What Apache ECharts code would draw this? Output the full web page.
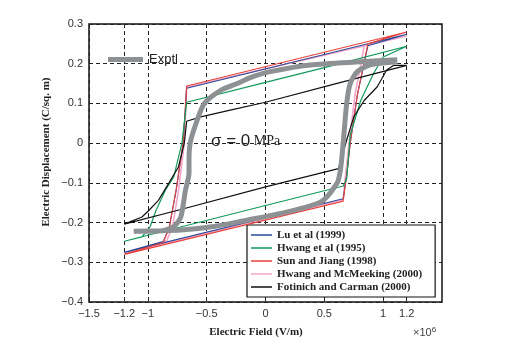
<!DOCTYPE html>
<html>
<head>
<meta charset="utf-8">
<script src="https://cdn.jsdelivr.net/npm/echarts@6/dist/echarts.min.js"></script>
<style>
  html, body { margin: 0; padding: 0; background: #fff; }
  #chart { width: 505px; height: 351px; }
</style>
</head>
<body>
<div id="chart"></div>
<script>
// tick positions (x in units of 1e6 V/m)
const xTicks = [-1.5, -1.2, -1, -0.5, 0, 0.5, 1, 1.2];

// hysteresis loops, [E, D] pairs
const luLoop = [
  [1.2, 0.274], [-0.67, 0.138], [-0.70, 0.0], [-0.76, -0.12], [-0.82, -0.215], [-0.87, -0.248], [-1.2, -0.275],
  [0.66, -0.14], [0.69, -0.08], [0.72, 0.0], [0.78, 0.12], [0.87, 0.245], [1.2, 0.274]
];
const hwangLoop = [
  [1.2, 0.244], [0.5, 0.19], [0, 0.153], [-0.67, 0.103], [-0.71, 0.0], [-0.78, -0.085], [-0.85, -0.118],
  [-0.93, -0.169], [-0.98, -0.21], [-1.05, -0.236], [-1.2, -0.247],
  [0, -0.157], [0.66, -0.108], [0.69, -0.09], [0.72, 0.02], [0.81, 0.108], [0.92, 0.176], [1.0, 0.217], [1.2, 0.244]
];
const sunLoop = [
  [1.2, 0.28], [-0.67, 0.144], [-0.70, 0.0], [-0.76, -0.118], [-0.82, -0.215], [-0.87, -0.25], [-1.2, -0.28],
  [0.66, -0.146], [0.69, -0.08], [0.72, 0.0], [0.78, 0.12], [0.87, 0.25], [1.2, 0.28]
];
const mcmeekingLoop = [
  [1.2, 0.27], [-0.67, 0.141], [-0.69, 0.0], [-0.74, -0.12], [-0.79, -0.21], [-0.84, -0.246], [-1.2, -0.277],
  [0.66, -0.142], [0.68, -0.08], [0.71, 0.0], [0.76, 0.12], [0.84, 0.246], [1.2, 0.27]
];
const fotinichLoop = [
  [1.2, 0.196], [0.6, 0.15], [0, 0.103], [-0.3, 0.083], [-0.55, 0.066], [-0.67, 0.055], [-0.69, 0.0],
  [-0.74, -0.06], [-0.82, -0.10], [-0.91, -0.144], [-0.99, -0.169], [-1.05, -0.186], [-1.2, -0.204],
  [-0.72, -0.167], [0, -0.11], [0.62, -0.064], [0.69, 0.008], [0.75, 0.066], [0.84, 0.108],
  [0.95, 0.142], [1.03, 0.184], [1.09, 0.196], [1.2, 0.196]
];
const exptlLoop = [
  [1.12, 0.21], [0.81, 0.205], [0.38, 0.197], [0.04, 0.18], [-0.13, 0.165], [-0.24, 0.15], [-0.38, 0.133],
  [-0.52, 0.1], [-0.59, 0.05], [-0.64, 0.0], [-0.65, -0.043], [-0.65, -0.076], [-0.68, -0.118],
  [-0.72, -0.186], [-0.78, -0.21], [-0.89, -0.221], [-1.12, -0.222],
  [-0.72, -0.219], [-0.44, -0.21], [-0.16, -0.194], [0.13, -0.177], [0.47, -0.148], [0.61, -0.10],
  [0.64, -0.06], [0.66, 0.0], [0.69, 0.1], [0.72, 0.15], [0.78, 0.18], [0.89, 0.197], [1.12, 0.205]
];

const names = ['Lu et al (1999)', 'Hwang et al (1995)', 'Sun and Jiang (1998)', 'Hwang and McMeeking (2000)', 'Fotinich and Carman (2000)'];

const minus = (v, d) => {
  if (v === 0) return '0';
  const s = d == null ? String(Math.abs(v)) : Math.abs(v).toFixed(d);
  return (v < 0 ? '\u2212' : '') + s;
};

const chart = echarts.init(document.getElementById('chart'));

function loop(name, data, color, width, z, smooth) {
  return {
    name: name,
    type: 'line',
    data: data,
    symbol: 'none',
    smooth: smooth || false,
    z: z,
    lineStyle: { color: color, width: width },
    itemStyle: { color: color }
  };
}

chart.setOption({
  animation: false,
  backgroundColor: '#fff',
  grid: {
    left: 89, top: 24, width: 353, height: 278,
    show: true, borderColor: '#111', borderWidth: 1.5, backgroundColor: 'transparent'
  },
  xAxis: {
    type: 'value', min: -1.5, max: 1.5,
    axisLine: { show: false },
    axisTick: { show: false, customValues: xTicks },
    axisLabel: {
      customValues: xTicks, margin: 6,
      color: '#333', fontFamily: 'Liberation Sans', fontSize: 11,
      formatter: v => minus(v)
    },
    splitLine: { show: true, lineStyle: { color: '#222', type: [4, 3], width: 1 } }
  },
  yAxis: {
    type: 'value', min: -0.4, max: 0.3, interval: 0.1,
    axisLine: { show: false },
    axisTick: { show: false },
    axisLabel: {
      margin: 6, color: '#333', fontFamily: 'Liberation Sans', fontSize: 11,
      formatter: v => minus(Math.round(v * 10) / 10, 1)
    },
    splitLine: { show: true, lineStyle: { color: '#222', type: [4, 3], width: 1 } }
  },
  legend: [
    {
      data: ['Exptl'],
      left: 103, top: 48,
      icon: 'rect',
      itemWidth: 35, itemHeight: 5,
      textStyle: { fontFamily: 'Liberation Sans', fontSize: 13, color: '#222', padding: [0, 0, 0, 1] }
    },
    {
      data: names,
      orient: 'vertical',
      left: 247, top: 225,
      padding: [4, 13, 4, 4],
      icon: 'rect',
      itemWidth: 21, itemHeight: 1.5, itemGap: 1,
      backgroundColor: '#fff', borderColor: '#111', borderWidth: 1.2, borderRadius: 0,
      textStyle: { fontFamily: 'Liberation Serif', fontWeight: 'bold', fontSize: 11, color: '#222', lineHeight: 12 }
    }
  ],
  graphic: [
    {
      type: 'text', left: 211, top: 133,
      style: {
        text: '{a|\u03c3 = 0}{b| MPa}',
        rich: {
          a: { fontFamily: 'Liberation Sans', fontSize: 17, fill: '#222' },
          b: { fontFamily: 'Liberation Serif', fontSize: 14, fill: '#222' }
        }
      }
    },
    {
      type: 'text', x: 46, y: 152, rotation: Math.PI / 2,
      style: {
        text: 'Electric Displacement (C/sq. m)', align: 'center', verticalAlign: 'middle',
        fontFamily: 'Liberation Serif', fontWeight: 'bold', fontSize: 11, fill: '#222'
      }
    },
    {
      type: 'text', x: 256, y: 332,
      style: {
        text: 'Electric Field (V/m)', align: 'center', verticalAlign: 'middle',
        fontFamily: 'Liberation Serif', fontWeight: 'bold', fontSize: 11, fill: '#222'
      }
    },
    {
      type: 'text', x: 413, y: 326,
      style: {
        text: '\u00d710{s|6}',
        fontFamily: 'Liberation Sans', fontSize: 11, fill: '#444',
        rich: { s: { fontFamily: 'Liberation Sans', fontSize: 8, fill: '#444', verticalAlign: 'top', padding: [0, 0, 6, 0] } }
      }
    }
  ],
  series: [
    loop(names[3], mcmeekingLoop, '#f4a6c8', 1.6, 2),
    loop(names[0], luLoop, '#2a4d9b', 1.1, 3),
    loop(names[2], sunLoop, '#e8403a', 1.1, 4),
    loop(names[1], hwangLoop, '#129a5c', 1.2, 5),
    loop(names[4], fotinichLoop, '#111111', 1.2, 6),
    loop('Exptl', exptlLoop, '#8e9194', 5, 7, 0.25)
  ]
});
</script>
</body>
</html>
